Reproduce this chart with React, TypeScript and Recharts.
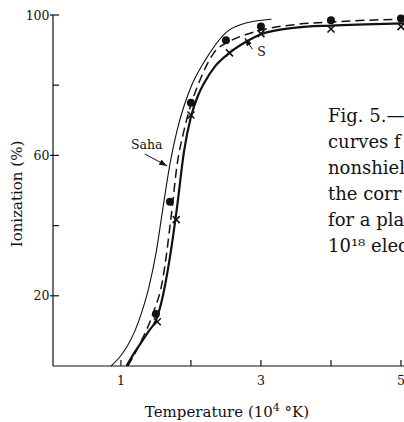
import { ComposedChart, Line, Scatter, XAxis, YAxis, ReferenceLine, ReferenceDot } from "recharts"

// Saha (nonshielded) curve
const sahaT = [0.86, 1.0, 1.1, 1.2, 1.3, 1.4, 1.5, 1.6, 1.7, 1.8, 1.9, 2.0, 2.2, 2.5, 2.8, 3.15]
const sahaI = [0, 3, 6, 10, 15.5, 22.5, 32, 45, 57.5, 67, 74, 79.5, 87, 95, 97.8, 98.8]

// dashed curve
const dashT = [1.1, 1.3, 1.45, 1.6, 1.72, 1.8, 1.9, 2.0, 2.1, 2.32, 2.55, 2.8, 3.0, 3.5, 4.0, 5.0, 5.6]
const dashI = [0, 7.5, 14.5, 25, 43, 57, 67, 74.5, 80, 89, 92.5, 94.5, 95.7, 97.3, 98, 98.8, 99]

// corrected curve S (heavy)
const sT = [1.08, 1.2, 1.3, 1.4, 1.5, 1.6, 1.7, 1.8, 1.9, 2.0, 2.1, 2.2, 2.35, 2.55, 2.8, 3.0, 3.5, 4.0, 5.0, 5.6]
const sI = [0, 4, 7, 10, 13, 20, 31, 45, 61, 71, 77, 81, 85.5, 89.2, 92.5, 94.5, 96.4, 97, 97.6, 97.8]

// measured points
const circleT = [1.5, 1.7, 2.0, 2.5, 3.0, 4.0, 5.0]
const circleI = [14.8, 46.8, 75, 92.8, 96.7, 98.5, 99]
const crossT = [1.52, 1.79, 2.0, 2.55, 3.0, 4.0, 5.0]
const crossI = [12.6, 41.7, 71.5, 89.2, 94.7, 96, 96.7]

const xTicks = [1, 2, 3, 4, 5]
const xTickLabels = ["1", "", "3", "", "5"]
const yTicks = [20, 40, 60, 80, 100]
const yTickLabels = ["20", "", "60", "", "100"]

// caption, cut off at the right edge as in the original figure
const caption = ["Fig. 5.—", "curves f", "nonshiel", "the corr", "for a pla", "10¹⁸ elec"]

const pts = (t: number[], v: number[]) => t.map((x, i) => ({ t: x, v: v[i] }))

const saha = pts(sahaT, sahaI)
const dashed = pts(dashT, dashI)
const sCurve = pts(sT, sI)
const circles = pts(circleT, circleI)
const crosses = pts(crossT, crossI)

const INK = "#111"
const FONT = "DejaVu Serif"
const AXIS_X = 53
const AXIS_Y = 366

const XTick = (p: any) => {
    const i = xTicks.indexOf(p.payload.value)
    return (
        <g>
            <line x1={p.x} x2={p.x} y1={AXIS_Y} y2={AXIS_Y - 6} stroke={INK} strokeWidth={1.2} />
            <text x={p.x} y={385} textAnchor="middle" fontFamily={FONT} fontSize={12.5} fill={INK}>
                {xTickLabels[i]}
            </text>
        </g>
    )
}

const YTick = (p: any) => {
    const i = yTicks.indexOf(p.payload.value)
    const lab = yTickLabels[i]
    return (
        <g>
            <line x1={lab ? AXIS_X - 3 : AXIS_X} x2={AXIS_X + 6} y1={p.y} y2={p.y} stroke={INK} strokeWidth={1.2} />
            <text x={49.5} y={p.y + 4.5} textAnchor="end" fontFamily={FONT} fontSize={12.5} fill={INK}>
                {lab}
            </text>
        </g>
    )
}

const Dot = (p: any) => <circle cx={p.cx} cy={p.cy} r={4} fill={INK} />

const Cross = (p: any) => {
    const d = 3.5
    return (
        <path
            d={`M${p.cx - d},${p.cy - d}L${p.cx + d},${p.cy + d}M${p.cx + d},${p.cy - d}L${p.cx - d},${p.cy + d}`}
            stroke={INK}
            strokeWidth={1.6}
            fill="none"
        />
    )
}

export default function App() {
    return (
        <div
            style={{
                position: "absolute",
                left: 0,
                top: 0,
                width: 404,
                height: 422,
                overflow: "hidden",
                background: "#fff",
            }}
        >
            <ComposedChart width={436} height={422} margin={{ top: 15, right: 0, bottom: 0, left: 0 }}>
                <defs>
                    <marker id="arr" markerWidth={8} markerHeight={6} refX={8} refY={3} orient="auto" markerUnits="userSpaceOnUse">
                        <path d="M0,0 L8,3 L0,6 z" fill={INK} />
                    </marker>
                </defs>
                <XAxis
                    dataKey="t"
                    type="number"
                    domain={[0.03, 5.5]}
                    ticks={xTicks}
                    allowDataOverflow
                    height={56}
                    tickSize={0}
                    tickMargin={0}
                    tickLine={false}
                    tick={XTick}
                    axisLine={{ stroke: INK, strokeWidth: 1.2 }}
                    label={{
                        content: () => (
                            <text x={227} y={417} textAnchor="middle" fontFamily={FONT} fontSize={15} fill={INK}>
                                Temperature (10
                                <tspan dy={-6} fontSize={11}>4</tspan>
                                <tspan dy={6}> °K)</tspan>
                            </text>
                        ),
                    }}
                />
                <YAxis
                    dataKey="v"
                    type="number"
                    domain={[0, 100]}
                    ticks={yTicks}
                    width={53}
                    tickSize={0}
                    tickMargin={0}
                    tickLine={false}
                    tick={YTick}
                    axisLine={{ stroke: INK, strokeWidth: 1.2 }}
                    label={{
                        content: () => (
                            <text
                                x={22}
                                y={194}
                                transform="rotate(-90 22 194)"
                                textAnchor="middle"
                                fontFamily={FONT}
                                fontSize={15}
                                fill={INK}
                            >
                                Ionization  (%)
                            </text>
                        ),
                    }}
                />
                <Line data={saha} dataKey="v" type="monotone" stroke={INK} strokeWidth={1.1} dot={false} activeDot={false} isAnimationActive={false} />
                <Line data={dashed} dataKey="v" type="monotone" stroke={INK} strokeWidth={1.5} strokeDasharray="9 5" dot={false} activeDot={false} isAnimationActive={false} />
                <Line data={sCurve} dataKey="v" type="monotone" stroke={INK} strokeWidth={2.2} dot={false} activeDot={false} isAnimationActive={false} />
                <Scatter data={circles} dataKey="v" shape={Dot} isAnimationActive={false} />
                <Scatter data={crosses} dataKey="v" shape={Cross} isAnimationActive={false} />
                <ReferenceLine segment={[{ x: 1.34, y: 60.4 }, { x: 1.66, y: 57 }]} stroke={INK} strokeWidth={1} markerEnd="url(#arr)" />
                <ReferenceDot
                    x={1.37}
                    y={63}
                    r={0}
                    fill="none"
                    stroke="none"
                    label={{ value: "Saha", position: "center", fontFamily: FONT, fontSize: 12.5, fill: INK }}
                />
                <ReferenceLine segment={[{ x: 2.88, y: 90.2 }, { x: 2.77, y: 93.4 }]} stroke={INK} strokeWidth={1} markerEnd="url(#arr)" />
                <ReferenceDot
                    x={3.01}
                    y={89.5}
                    r={0}
                    fill="none"
                    stroke="none"
                    label={{ value: "S", position: "center", fontFamily: FONT, fontSize: 12.5, fill: INK }}
                />
            </ComposedChart>
            <div
                style={{
                    position: "absolute",
                    left: 328,
                    top: 103,
                    whiteSpace: "nowrap",
                    fontFamily: FONT,
                    fontSize: 18,
                    lineHeight: "26px",
                    color: INK,
                }}
            >
                {caption.map((c, i) => (
                    <div key={i}>{c}</div>
                ))}
            </div>
        </div>
    )
}
